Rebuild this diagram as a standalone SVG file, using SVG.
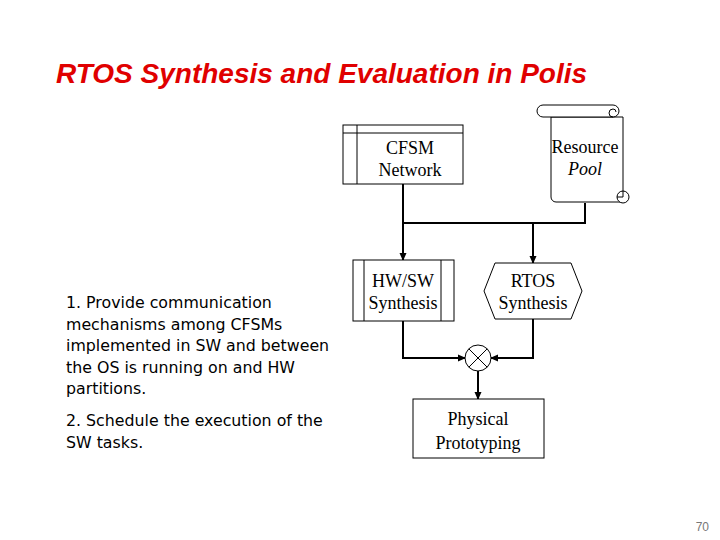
<svg xmlns="http://www.w3.org/2000/svg" width="720" height="540" viewBox="0 0 720 540">
<defs>
<style>
.box{fill:#fff;stroke:#000;stroke-width:1}
.thin{fill:none;stroke:#000;stroke-width:1}
.conn{fill:none;stroke:#000;stroke-width:2}
.lbl{font-family:"Liberation Serif","Times New Roman",serif;font-size:18px;fill:#000;text-anchor:middle}
.body{font-family:"DejaVu Sans",Tahoma,sans-serif;font-size:15.8px;fill:#000}
</style>
<marker id="arr" markerWidth="8" markerHeight="8" refX="7" refY="4" orient="auto" markerUnits="userSpaceOnUse">
<path d="M0,0.5 L8,4 L0,7.5 Z" fill="#000"/>
</marker>
</defs>
<rect width="720" height="540" fill="#fff"/>
<text x="56" y="83" font-family="Liberation Sans,Arial,sans-serif" font-size="28" font-weight="bold" font-style="italic" fill="#e00000">RTOS Synthesis and Evaluation in Polis</text>

<g id="connectors">
<path class="conn" d="M403,184 V223 H585 V203"/>
<path class="conn" d="M403,223 V260" marker-end="url(#arr)"/>
<path class="conn" d="M533,223 V263" marker-end="url(#arr)"/>
<path class="conn" d="M403,321 V358 H465" marker-end="url(#arr)"/>
<path class="conn" d="M533,319 V358 H491" marker-end="url(#arr)"/>
<path class="conn" d="M478,371 V399" marker-end="url(#arr)"/>
</g>

<g id="cfsm-network">
<rect class="box" x="343" y="125" width="120" height="59"/>
<line class="thin" x1="343" y1="133" x2="463" y2="133"/>
<line class="thin" x1="357" y1="125" x2="357" y2="184"/>
<text class="lbl" x="410" y="154">CFSM</text>
<text class="lbl" x="410" y="176">Network</text>
</g>

<g id="resource-pool">
<path class="box" d="M551,117 V197 A5,5 0 0 0 556,202 H623 V117 Z"/>
<path class="box" d="M543,105 H613 A6,6 0 0 1 613,117 H543 A6,6 0 0 1 543,105 Z"/>
<path class="thin" d="M613,117 A4,4 0 0 1 613,109 A3,3 0 0 1 616,112"/>
<circle class="box" cx="623" cy="197" r="6"/>
<path class="thin" d="M617,197 H623 V191"/>
<text x="585" y="153" font-family="Liberation Serif,serif" font-size="18" text-anchor="middle">Resource</text>
<text x="585" y="175" font-family="Liberation Serif,serif" font-size="18" font-style="italic" text-anchor="middle">Pool</text>
</g>

<g id="hwsw-synthesis">
<rect class="box" x="353" y="260" width="101" height="61"/>
<line class="thin" x1="364" y1="260" x2="364" y2="321"/>
<line class="thin" x1="441" y1="260" x2="441" y2="321"/>
<text class="lbl" x="403" y="287">HW/SW</text>
<text class="lbl" x="403" y="309">Synthesis</text>
</g>

<g id="rtos-synthesis">
<polygon class="box" points="484,291 495,263 571,263 582,291 571,319 495,319"/>
<text class="lbl" x="533" y="287">RTOS</text>
<text class="lbl" x="533" y="309">Synthesis</text>
</g>

<g id="merge">
<circle class="box" cx="478" cy="358" r="13"/>
<line class="thin" x1="468.8" y1="348.8" x2="487.2" y2="367.2"/>
<line class="thin" x1="487.2" y1="348.8" x2="468.8" y2="367.2"/>
</g>

<g id="physical-prototyping">
<rect class="box" x="413" y="399" width="131" height="59"/>
<text class="lbl" x="478" y="425">Physical</text>
<text class="lbl" x="478" y="449">Prototyping</text>
</g>

<g id="notes">
<text class="body" x="66" y="308">1. Provide communication</text>
<text class="body" x="66" y="330">mechanisms among CFSMs</text>
<text class="body" x="66" y="351">implemented in SW and between</text>
<text class="body" x="66" y="373">the OS is running on and HW</text>
<text class="body" x="66" y="394">partitions.</text>
<text class="body" x="66" y="426">2. Schedule the execution of the</text>
<text class="body" x="66" y="448">SW tasks.</text>
</g>
<text x="709" y="531" font-family="Liberation Sans,Arial,sans-serif" font-size="12" fill="#777" text-anchor="end">70</text>
</svg>
